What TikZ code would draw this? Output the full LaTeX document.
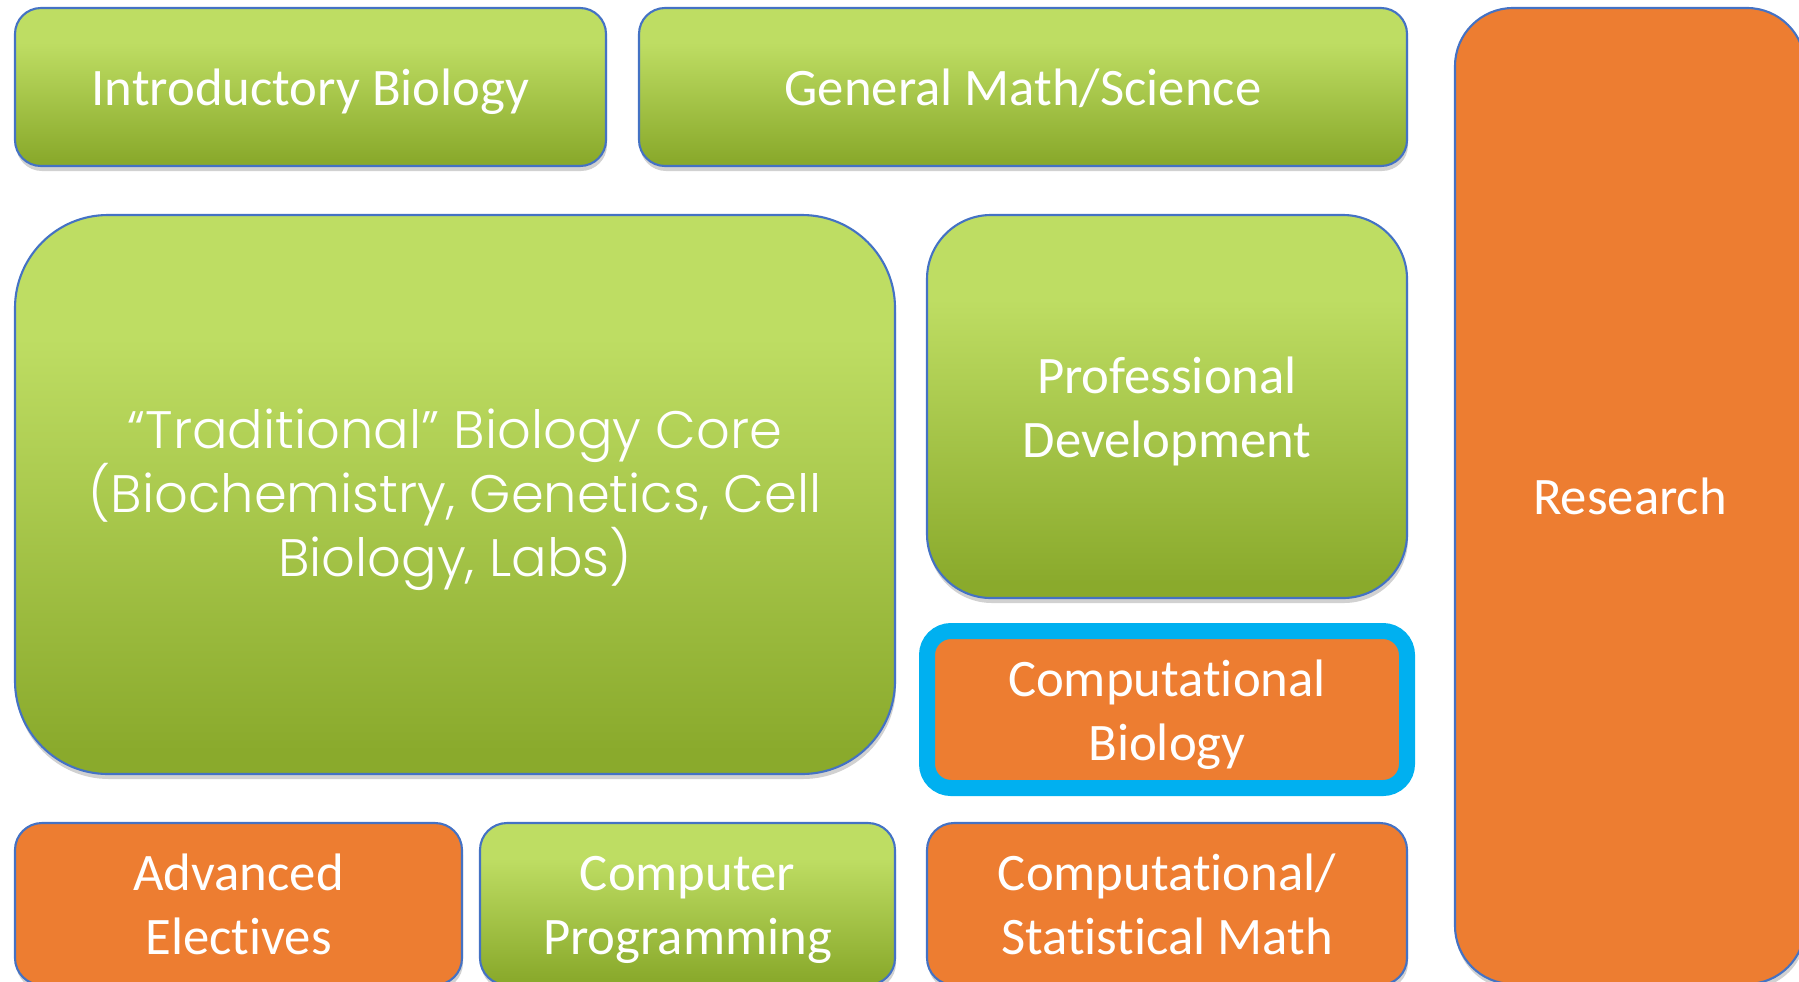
\documentclass[tikz,border=0pt]{standalone}
\usepackage{fontspec}
\setmainfont{Carlito}[Ligatures=NoCommon]
\newfontfamily\geofont{Poppins Light}
\usepackage{tikz}
\usetikzlibrary{positioning,shadows}

\definecolor{leafhi}{RGB}{190,221,99}
\definecolor{leaflo}{RGB}{138,170,44}
\definecolor{rust}{RGB}{237,125,49}
\definecolor{edgeblue}{RGB}{68,114,196}
\definecolor{skyblue}{RGB}{0,176,240}

% light green on top, darker towards the bottom
\pgfdeclareverticalshading{leafshade}{100bp}{%
  color(0bp)=(leaflo); color(27bp)=(leaflo);
  color(64bp)=(leafhi); color(100bp)=(leafhi)}

% same line box for every first and last line, descenders or not
\newcommand{\ls}{\rule[-0.25em]{0pt}{1.21em}}

\begin{document}
\begin{tikzpicture}[
        course/.style={draw=edgeblue, line width=0.6pt, align=center,
                       text=white, inner sep=2pt, outer sep=0pt,
                       font=\fontsize{15}{18.2}\selectfont,
                       execute at end node=\ls,
                       drop shadow={shadow xshift=0.01cm, shadow yshift=-0.05cm,
                                    opacity=0.18, fill=black}},
        core/.style={course, shading=leafshade},
        extra/.style={course, fill=rust}
    ]
        \useasboundingbox (0,0) rectangle (17.99,-9.81);

        % top row
        \node[core, anchor=north west, minimum width=5.91cm, minimum height=1.58cm,
              rounded corners=0.26cm] (intro) at (0.15,-0.08) {\ls Introductory Biology};
        \node[core, right=0.33cm of intro, minimum width=7.68cm, minimum height=1.58cm,
              rounded corners=0.26cm] (mathsci) {\ls General Math/Science};

        % middle block
        \node[core, anchor=north west, minimum width=8.80cm, minimum height=5.59cm,
              rounded corners=0.93cm, font=\geofont\fontsize{15}{18.2}\selectfont]
            (bio-core) at (0.15,-2.15)
            {\ls “Traditional” Biology Core\\(Biochemistry, Genetics, Cell\\Biology, Labs)};
        \node[core, right=0.32cm of bio-core.north east, anchor=north west,
              minimum width=4.80cm, minimum height=3.83cm, rounded corners=0.64cm]
            (prof-dev) {\ls Professional\\Development};
        \node[extra, draw=skyblue, line width=0.16cm, anchor=north west,
              minimum width=4.80cm, minimum height=1.57cm, rounded corners=0.24cm]
            (comp-bio) at (9.27,-6.31) {\ls Computational\\Biology};

        % bottom row
        \node[extra, anchor=north west, minimum width=4.47cm, minimum height=1.62cm,
              rounded corners=0.27cm] (electives) at (0.15,-8.23) {\ls Advanced\\Electives};
        \node[core, right=0.18cm of electives, minimum width=4.15cm, minimum height=1.62cm,
              rounded corners=0.27cm] (programming) {\ls Computer\\Programming};
        \node[extra, right=0.32cm of programming, minimum width=4.80cm, minimum height=1.62cm,
              rounded corners=0.27cm] (stat-math) {\ls Computational/\\Statistical Math};

        % right column
        \node[extra, right=0.48cm of mathsci.north east, anchor=north west,
              minimum width=3.50cm, minimum height=9.76cm, rounded corners=0.58cm]
            (research) {\ls Research};
    \end{tikzpicture}
\end{document}
